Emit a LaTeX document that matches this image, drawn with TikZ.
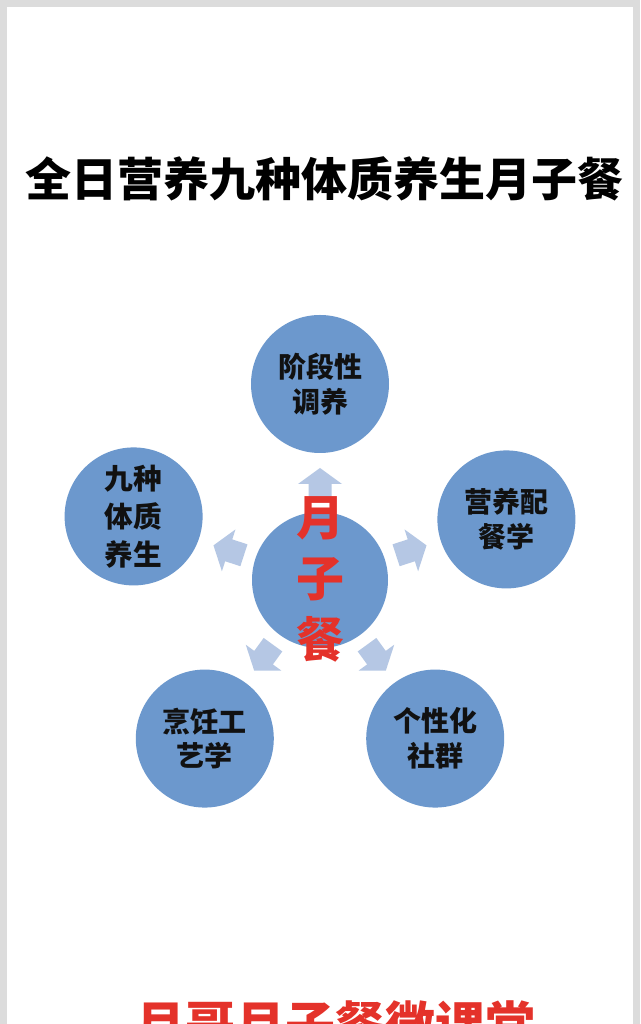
\documentclass[tikz,border=0pt]{standalone}
\usepackage{fontspec}
\setmainfont{Noto Sans CJK SC}
\usetikzlibrary{calc}
\definecolor{framegray}{RGB}{220,220,220}
\definecolor{circblue}{RGB}{108,152,205}
\definecolor{arrblue}{RGB}{181,199,228}
\definecolor{cred}{RGB}{228,50,42}
\definecolor{ink}{RGB}{17,17,17}
\begin{document}
\begin{tikzpicture}[x=0.75pt,y=0.75pt,
  bubble/.style={circle,fill=circblue,minimum size=103.5pt,inner sep=0pt,text=ink,
    font=\bfseries\fontsize{21}{26}\selectfont,align=center},
  hub/.style={circle,fill=circblue,minimum size=102pt,inner sep=0pt},
  arrowfill/.style={fill=arrblue}]
\useasboundingbox (0,0) rectangle (640,1024);
\fill[framegray] (0,0) rectangle (640,1024);
\fill[white] (7,-10) rectangle (633,1017);
% title
\node[font=\bfseries\fontsize{34.5}{40}\selectfont,inner sep=0pt] (title) at (324,845.5) {全日营养九种体质养生月子餐};
% center
\coordinate (c) at (320,444);
\foreach \a in {90,18,162,-54,-126}{
  \begin{scope}[shift={(c)},rotate=\a]
    \fill[arrowfill] (80,-11.5) -- (96,-11.5) -- (96,-22) -- (112,0) -- (96,22) -- (96,11.5) -- (80,11.5) -- cycle;
  \end{scope}
}
\node[hub] (hub) at (c) {};
\node[bubble] (top) at ($(c)+(90:196)$) {阶段性\\调养};
\node[bubble] (right) at ($(c)+(18:196)$) {营养配\\餐学};
\node[bubble,font=\bfseries\fontsize{21.5}{28.5}\selectfont] (left) at ($(c)+(162:196)+(0,3)$) {九种\\体质\\养生};
\node[bubble] (bl) at ($(c)+(-126:196)$) {烹饪工\\艺学};
\node[bubble] (br) at ($(c)+(-54:196)$) {个性化\\社群};
\node[text=cred,font=\bfseries\fontsize{36}{45.75}\selectfont,align=center,inner sep=0pt] (hubtext) at (320,445) {月\\子\\餐};
% bottom
\node[text=cred,font=\bfseries\fontsize{37.5}{40}\selectfont,inner sep=0pt,anchor=north] (foot) at (335,24) {月哥月子餐微课堂};
\end{tikzpicture}
\end{document}
